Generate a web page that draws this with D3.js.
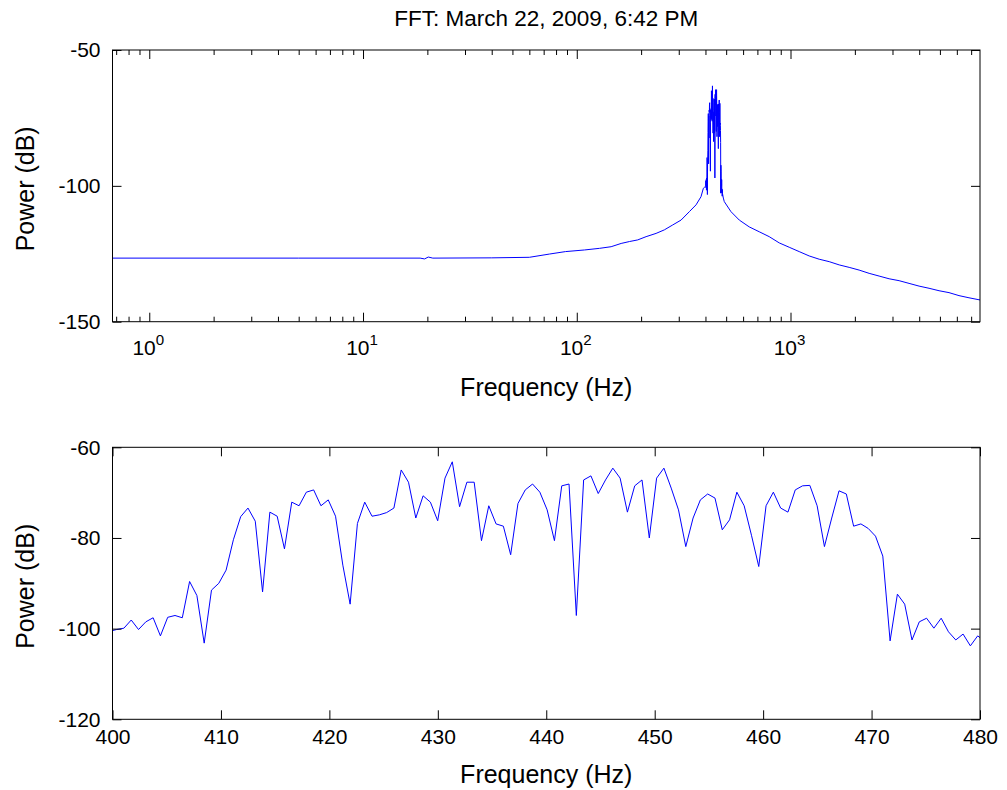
<!DOCTYPE html>
<html><head><meta charset="utf-8">
<script src="https://cdn.jsdelivr.net/npm/d3@7"></script>
<style>
body{margin:0;background:#fff}
svg{display:block}
text{font-family:"Liberation Sans",Arial,sans-serif;fill:#000}
</style>
</head><body><svg id="c" width="1007" height="790"></svg>
<script>
// ---- data ----
const titleText = "FFT: March 22, 2009, 6:42 PM";
const binHz = 0.67291;      // FFT bin spacing (Hz)
const firstBin = 594;       // first bin index of the zoomed series
// power of bins 594..714 (≈399.7 – 480.5 Hz)
const zoomPower = [
 -100.6,-100.2,-99.9,-98.1,-100.2,-98.5,-97.6,-101.6,-97.5,-97.1,
 -97.6,-89.6,-92.7,-103.2,-91.5,-90.0,-87.1,-80.4,-75.3,-73.4,
 -76.3,-91.9,-74.3,-75.2,-82.4,-72.1,-72.9,-69.9,-69.4,-72.9,
 -71.6,-75.2,-86.0,-94.6,-76.8,-72.1,-75.2,-74.9,-74.4,-73.4,
 -65.0,-67.7,-75.6,-70.7,-72.1,-76.2,-66.8,-63.2,-73.1,-67.7,
 -67.7,-80.6,-72.9,-76.9,-77.4,-83.7,-72.4,-69.4,-68.1,-69.9,
 -73.8,-80.6,-68.5,-68.1,-97.1,-67.2,-66.3,-70.2,-67.2,-64.6,
 -66.8,-74.3,-68.5,-67.2,-80.0,-66.8,-64.6,-69.0,-73.8,-81.9,
 -75.6,-71.6,-70.3,-71.2,-78.2,-76.0,-69.9,-72.9,-79.4,-86.3,
 -72.9,-69.9,-73.4,-74.3,-69.4,-68.5,-68.4,-72.9,-81.9,-75.6,
 -69.6,-70.3,-77.4,-76.9,-77.9,-79.6,-84.0,-102.7,-92.4,-94.6,
 -102.5,-98.5,-97.7,-99.9,-97.7,-100.7,-102.5,-101.2,-103.8,-101.6,
 -102.8
];
// full spectrum outside the zoomed band
const lowFreq  = [0.673, 5, 18.5, 19.4, 20.2, 21.2, 40, 60, 74.5, 88.5, 108.6, 127.8, 144.8, 161.3, 176.3, 192.8, 211, 235, 256.9, 281, 307.5, 336.3, 361.4, 381.3, 391, 396];
const lowPower = [-126.6,-126.6,-126.6,-126.9,-126.2,-126.6,-126.5,-126.3,-125.1,-124.2,-123.6,-123.0,-122.4,-121.2,-120.5,-119.9,-118.7,-117.5,-116.2,-114.4,-112.6,-109.5,-107.0,-104.0,-100.9,-100.5];
const highFreq  = [485, 490, 526.6, 576, 641, 714, 795, 886, 986, 1098, 1223, 1362, 1517, 1690, 1881, 2094, 2332, 2597, 2892, 3221, 3586, 3994, 4447, 4953, 5514, 6141, 6839, 7700];
const highPower = [-104.5,-105.8,-109.5,-112.6,-115.1,-116.9,-118.7,-121.0,-122.6,-124.2,-125.8,-127.0,-127.9,-129.1,-130.0,-131.0,-132.2,-133.2,-134.2,-134.9,-135.9,-136.9,-137.7,-138.6,-139.3,-140.4,-141.2,-142.0];
const topXDomain = [0.67291, 7700];
const topYTicks = [-150, -100, -50];
const topXMajor = [1, 10, 100, 1000];
const bottomXTicks = [400, 410, 420, 430, 440, 450, 460, 470, 480];
const bottomYTicks = [-120, -100, -80, -60];
const xLabel = "Frequency (Hz)";
const yLabel = "Power (dB)";

// ---- layout ----
const L = 112.5, R = 980;
const top1 = 50, bot1 = 321.7;
const top2 = 447.3, bot2 = 719.3;
const FS = 21, FL = 25, FT = 22.5;
const svg = d3.select("#c");
const fmt = d => String(d);

const zoomData = zoomPower.map((p, i) => ({f: (firstBin + i) * binHz, p}));
const lowData = lowFreq.map((f, i) => ({f, p: lowPower[i]}));
const highData = highFreq.map((f, i) => ({f, p: highPower[i]}));
const fullData = lowData.concat(zoomData.filter(d => d.f > lowFreq[lowFreq.length-1] && d.f < highFreq[0]), highData);

// scales
const x1 = d3.scaleLog().domain(topXDomain).range([L, R]);
const y1 = d3.scaleLinear().domain([-150, -50]).range([bot1, top1]);
const x2 = d3.scaleLinear().domain([400, 480]).range([L, R]);
const y2 = d3.scaleLinear().domain([-120, -60]).range([bot2, top2]);

const defs = svg.append("defs");
defs.append("clipPath").attr("id","cp1").append("rect").attr("x",L).attr("y",top1).attr("width",R-L).attr("height",bot1-top1);
defs.append("clipPath").attr("id","cp2").append("rect").attr("x",L).attr("y",top2).attr("width",R-L).attr("height",bot2-top2);

// title
svg.append("text").attr("x", (L+R)/2).attr("y", 26).attr("text-anchor","middle").attr("font-size", FT).text(titleText);

function frame(top, bot){
  svg.append("rect").attr("x",L).attr("y",top).attr("width",R-L).attr("height",bot-top)
     .attr("fill","none").attr("stroke","#000").attr("stroke-width",1);
}

// ---- top plot ----
svg.append("path").datum(fullData).attr("clip-path","url(#cp1)")
  .attr("fill","none").attr("stroke","#0000ff").attr("stroke-width",1)
  .attr("d", d3.line().x(d => x1(d.f)).y(d => y1(d.p)));

const minor = [];
for (let dec = 0.1; dec < 10000; dec *= 10) {
  for (let m = 2; m <= 9; m++) { const v = +(m*dec).toPrecision(3); if (v >= topXDomain[0] && v <= topXDomain[1]) minor.push(v); }
}
function tickOnly(g){ g.select(".domain").remove(); }
svg.append("g").attr("transform",`translate(0,${bot1})`).call(d3.axisBottom(x1).tickValues(minor).tickSize(-5).tickFormat("")).call(tickOnly);
svg.append("g").attr("transform",`translate(0,${bot1})`).call(d3.axisBottom(x1).tickValues(topXMajor).tickSize(-9).tickFormat("")).call(tickOnly);
svg.append("g").attr("transform",`translate(0,${top1})`).call(d3.axisTop(x1).tickValues(minor).tickSize(-5).tickFormat("")).call(tickOnly);
svg.append("g").attr("transform",`translate(0,${top1})`).call(d3.axisTop(x1).tickValues(topXMajor).tickSize(-9).tickFormat("")).call(tickOnly);
const lab = svg.append("g");
topXMajor.forEach(v => {
  const t = lab.append("text").attr("x", x1(v) - 1).attr("y", bot1 + 33).attr("text-anchor","middle").attr("font-size", FS);
  t.append("tspan").text("10");
  t.append("tspan").attr("dy", -10).attr("font-size", FS*0.72).text(Math.round(Math.log10(v)));
});

function yAxes(y, ticks){
  const gl = svg.append("g").attr("transform",`translate(${L},0)`);
  gl.call(d3.axisLeft(y).tickValues(ticks).tickSize(-9).tickPadding(12).tickFormat(fmt)).call(tickOnly);
  gl.selectAll("text").attr("font-size", FS).attr("font-family",'"Liberation Sans",Arial,sans-serif');
  svg.append("g").attr("transform",`translate(${R},0)`)
     .call(d3.axisRight(y).tickValues(ticks).tickSize(-9).tickFormat("")).call(tickOnly);
}
yAxes(y1, topYTicks);
frame(top1, bot1);
svg.append("text").attr("x",(L+R)/2).attr("y", bot1 + 74).attr("text-anchor","middle").attr("font-size", FL).text(xLabel);
svg.append("text").attr("transform",`translate(34,${(top1+bot1)/2 + 3}) rotate(-90)`).attr("text-anchor","middle").attr("font-size", FL).text(yLabel);

// ---- bottom plot ----
svg.append("path").datum(zoomData).attr("clip-path","url(#cp2)")
  .attr("fill","none").attr("stroke","#0000ff").attr("stroke-width",1)
  .attr("d", d3.line().x(d => x2(d.f)).y(d => y2(d.p)));
const gb = svg.append("g").attr("transform",`translate(0,${bot2})`);
gb.call(d3.axisBottom(x2).tickValues(bottomXTicks).tickSize(-9).tickPadding(10).tickFormat(fmt)).call(tickOnly);
gb.selectAll("text").attr("font-size", FS).attr("font-family",'"Liberation Sans",Arial,sans-serif');
svg.append("g").attr("transform",`translate(0,${top2})`)
   .call(d3.axisTop(x2).tickValues(bottomXTicks).tickSize(-9).tickFormat("")).call(tickOnly);
yAxes(y2, bottomYTicks);
frame(top2, bot2);
svg.append("text").attr("x",(L+R)/2).attr("y", bot2 + 64).attr("text-anchor","middle").attr("font-size", FL).text(xLabel);
svg.append("text").attr("transform",`translate(34,${(top2+bot2)/2 + 3}) rotate(-90)`).attr("text-anchor","middle").attr("font-size", FL).text(yLabel);

svg.selectAll(".tick line").attr("stroke","#000");
</script></body></html>
